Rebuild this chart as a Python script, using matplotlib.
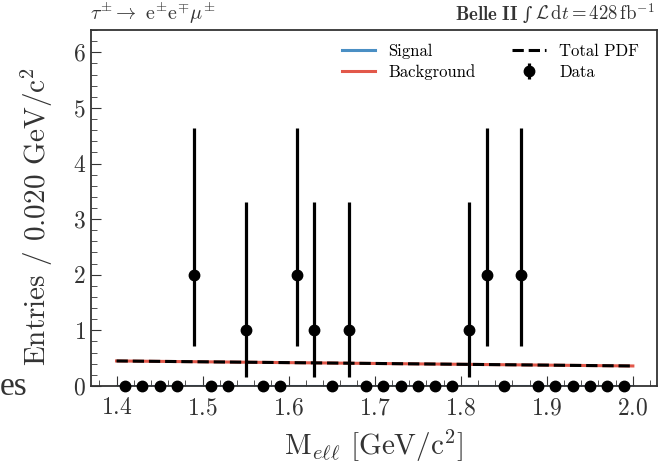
import numpy as np
import matplotlib.pyplot as plt
from matplotlib.ticker import MultipleLocator

plt.rcParams['font.family'] = 'serif'
plt.rcParams['font.serif'] = ['cmr10']
plt.rcParams['mathtext.fontset'] = 'cm'
plt.rcParams['axes.formatter.use_mathtext'] = True

# bin centres (0.020 GeV/c^2 bins from 1.4 to 2.0) and observed counts
bin_centres = np.round(np.arange(1.41, 2.0, 0.02), 2)
counts = np.zeros(len(bin_centres))
filled = {1.49: 2, 1.55: 1, 1.61: 2, 1.63: 1, 1.67: 1, 1.81: 1, 1.83: 2, 1.87: 2}
for m, n in filled.items():
    counts[np.argmin(abs(bin_centres - m))] = n

# Poisson (Garwood) 68% intervals
err_lo = {0: 0.0, 1: 0.83, 2: 1.29}
err_hi = {0: 0.0, 1: 2.30, 2: 2.64}
yerr = np.array([[err_lo[int(c)] for c in counts], [err_hi[int(c)] for c in counts]])

# fitted pdf curves
pdf_x = [1.4, 1.6, 1.8, 2.0]
bkg_y = [0.45, 0.42, 0.39, 0.36]
sig_y = [0.0, 0.0, 0.0, 0.0]

fig = plt.figure(figsize=(6.69, 4.66), dpi=100)
ax = fig.add_axes([0.1356, 0.1717, 0.8464, 0.7639])

ax.plot(pdf_x, sig_y, color='#4a8fc4', lw=2.2, label='Signal', zorder=1)
ax.plot(pdf_x, bkg_y, color='#e2584a', lw=2.2, label='Background', zorder=2)
ax.plot(pdf_x, bkg_y, color='black', lw=2.2, ls='--', label='Total PDF', zorder=3)
ax.errorbar(bin_centres, counts, yerr=yerr, fmt='o', color='black', ms=7.5,
            elinewidth=2.3, capsize=0, label='Data', zorder=4, clip_on=False)

ax.set_xlim(1.37, 2.028)
ax.set_ylim(0, 6.4)
ax.xaxis.set_major_locator(MultipleLocator(0.1))
ax.xaxis.set_minor_locator(MultipleLocator(0.02))
ax.yaxis.set_major_locator(MultipleLocator(1))
ax.yaxis.set_minor_locator(MultipleLocator(0.2))
ax.tick_params(which='both', direction='in', labelsize=17, colors='#333333')
ax.tick_params(which='major', length=7)
ax.tick_params(which='minor', length=4)
ax.tick_params(axis='x', pad=8)
for s in ax.spines.values():
    s.set_linewidth(1.3)
    s.set_color('#333333')

ax.set_xlabel(r'M$_{e\ell\ell}$ [GeV/c$^2$]', fontsize=21, color='#333333', labelpad=6)
ax.set_ylabel(r'Entries / 0.020 GeV/c$^2$', fontsize=21, color='#333333')
ax.yaxis.set_label_coords(-0.063, 0.475)

ax.legend(ncol=2, loc='upper right', frameon=False, fontsize=12, handlelength=2.0,
          columnspacing=2.2, bbox_to_anchor=(0.995, 1.005), labelspacing=0.35)

# header texts
W = 669.0
fig.text(90 / W, 0.957, r'$\tau^{\pm}\rightarrow\ \mathrm{e}^{\pm}\mathrm{e}^{\mp}\mu^{\pm}$',
         fontsize=14.5, ha='left', va='baseline', color='#333333')
lumi = fig.text(655 / W, 0.957, r'$\mathcal{L}\,\mathrm{d}t = 428\,\mathrm{fb}^{-1}$',
                fontsize=13.5, ha='right', va='baseline', color='#333333')
fig.canvas.draw()
x0 = lumi.get_window_extent().x0
integ = fig.text((x0 - 3) / W, 0.957, '∫', fontsize=13, family='DejaVu Serif',
                 ha='right', va='baseline', color='#333333')
fig.canvas.draw()
x1 = integ.get_window_extent().x0
fig.text((x1 - 5) / W, 0.957, r'$\mathbf{Belle\ II}$',
         fontsize=13.5, ha='right', va='baseline', color='#333333')
fig.text(0.0, 0.152, 'es', fontsize=24, family='Liberation Serif', ha='left',
         va='baseline', color='#333333')

fig.savefig('out.png', dpi=100)
